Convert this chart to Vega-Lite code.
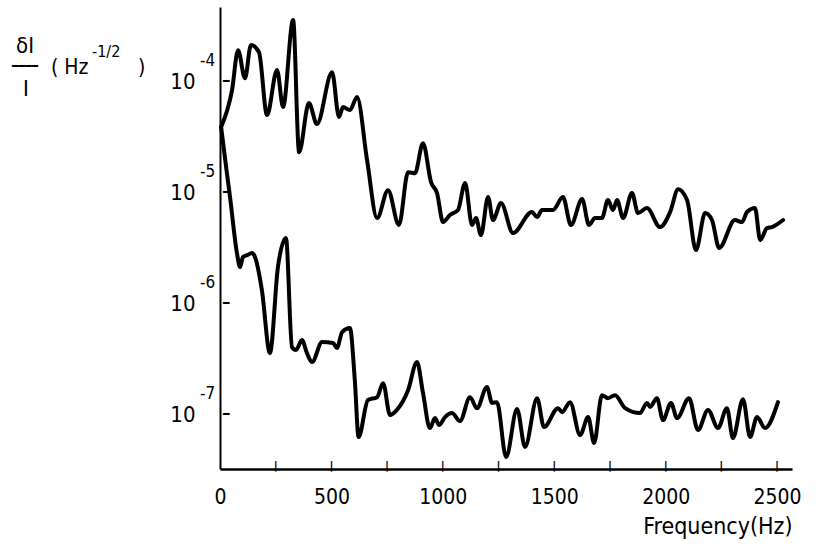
{
  "$schema": "https://vega.github.io/schema/vega-lite/v6.json",
  "width": 572,
  "height": 462,
  "autosize": {"type": "none"},
  "padding": {"left": 220, "top": 7, "right": 28, "bottom": 82},
  "background": "white",
  "config": {
    "view": {"stroke": null},
    "font": "DejaVu Sans Condensed, Liberation Sans Narrow, DejaVu Sans, sans-serif",
    "text": {"font": "DejaVu Sans Condensed, Liberation Sans Narrow, DejaVu Sans, sans-serif", "color": "black"}
  },
  "datasets": {
    "curves": [
      {"s": "upper", "f": 5, "v": 3.86e-5},
      {"s": "upper", "f": 54, "v": 8.30e-5},
      {"s": "upper", "f": 81, "v": 1.90e-4},
      {"s": "upper", "f": 112, "v": 1.06e-4},
      {"s": "upper", "f": 139, "v": 2.11e-4},
      {"s": "upper", "f": 175, "v": 1.82e-4},
      {"s": "upper", "f": 211, "v": 4.94e-5},
      {"s": "upper", "f": 256, "v": 1.26e-4},
      {"s": "upper", "f": 283, "v": 5.83e-5},
      {"s": "upper", "f": 328, "v": 3.55e-4},
      {"s": "upper", "f": 355, "v": 2.29e-5},
      {"s": "upper", "f": 399, "v": 6.34e-5},
      {"s": "upper", "f": 435, "v": 4.10e-5},
      {"s": "upper", "f": 503, "v": 1.20e-4},
      {"s": "upper", "f": 534, "v": 4.74e-5},
      {"s": "upper", "f": 552, "v": 5.83e-5},
      {"s": "upper", "f": 583, "v": 5.48e-5},
      {"s": "upper", "f": 615, "v": 7.18e-5},
      {"s": "upper", "f": 660, "v": 1.94e-5},
      {"s": "upper", "f": 705, "v": 5.83e-6},
      {"s": "upper", "f": 754, "v": 1.04e-5},
      {"s": "upper", "f": 803, "v": 5.05e-6},
      {"s": "upper", "f": 844, "v": 1.51e-5},
      {"s": "upper", "f": 875, "v": 1.48e-5},
      {"s": "upper", "f": 911, "v": 2.76e-5},
      {"s": "upper", "f": 947, "v": 1.23e-5},
      {"s": "upper", "f": 974, "v": 9.80e-6},
      {"s": "upper", "f": 1001, "v": 5.37e-6},
      {"s": "upper", "f": 1032, "v": 6.21e-6},
      {"s": "upper", "f": 1068, "v": 6.89e-6},
      {"s": "upper", "f": 1100, "v": 1.21e-5},
      {"s": "upper", "f": 1131, "v": 5.05e-6},
      {"s": "upper", "f": 1149, "v": 5.83e-6},
      {"s": "upper", "f": 1171, "v": 4.10e-6},
      {"s": "upper", "f": 1203, "v": 9.02e-6},
      {"s": "upper", "f": 1225, "v": 5.60e-6},
      {"s": "upper", "f": 1261, "v": 7.96e-6},
      {"s": "upper", "f": 1315, "v": 4.27e-6},
      {"s": "upper", "f": 1400, "v": 6.61e-6},
      {"s": "upper", "f": 1423, "v": 5.96e-6},
      {"s": "upper", "f": 1445, "v": 6.89e-6},
      {"s": "upper", "f": 1494, "v": 6.89e-6},
      {"s": "upper", "f": 1539, "v": 9.02e-6},
      {"s": "upper", "f": 1575, "v": 5.05e-6},
      {"s": "upper", "f": 1625, "v": 8.65e-6},
      {"s": "upper", "f": 1656, "v": 5.05e-6},
      {"s": "upper", "f": 1683, "v": 5.83e-6},
      {"s": "upper", "f": 1714, "v": 5.83e-6},
      {"s": "upper", "f": 1741, "v": 8.47e-6},
      {"s": "upper", "f": 1764, "v": 6.89e-6},
      {"s": "upper", "f": 1782, "v": 8.47e-6},
      {"s": "upper", "f": 1809, "v": 5.83e-6},
      {"s": "upper", "f": 1849, "v": 9.80e-6},
      {"s": "upper", "f": 1876, "v": 6.47e-6},
      {"s": "upper", "f": 1916, "v": 7.18e-6},
      {"s": "upper", "f": 1975, "v": 4.84e-6},
      {"s": "upper", "f": 2020, "v": 6.61e-6},
      {"s": "upper", "f": 2056, "v": 1.06e-5},
      {"s": "upper", "f": 2096, "v": 8.47e-6},
      {"s": "upper", "f": 2136, "v": 3.00e-6},
      {"s": "upper", "f": 2177, "v": 6.47e-6},
      {"s": "upper", "f": 2208, "v": 5.60e-6},
      {"s": "upper", "f": 2240, "v": 3.13e-6},
      {"s": "upper", "f": 2311, "v": 5.60e-6},
      {"s": "upper", "f": 2343, "v": 5.37e-6},
      {"s": "upper", "f": 2365, "v": 6.61e-6},
      {"s": "upper", "f": 2401, "v": 7.18e-6},
      {"s": "upper", "f": 2424, "v": 3.70e-6},
      {"s": "upper", "f": 2455, "v": 4.74e-6},
      {"s": "upper", "f": 2477, "v": 4.84e-6},
      {"s": "upper", "f": 2527, "v": 5.60e-6},
      {"s": "lower", "f": 5, "v": 3.86e-5},
      {"s": "lower", "f": 31, "v": 1.48e-5},
      {"s": "lower", "f": 45, "v": 9.02e-6},
      {"s": "lower", "f": 76, "v": 2.82e-6},
      {"s": "lower", "f": 90, "v": 2.11e-6},
      {"s": "lower", "f": 103, "v": 2.60e-6},
      {"s": "lower", "f": 121, "v": 2.70e-6},
      {"s": "lower", "f": 144, "v": 2.82e-6},
      {"s": "lower", "f": 157, "v": 2.60e-6},
      {"s": "lower", "f": 188, "v": 1.31e-6},
      {"s": "lower", "f": 224, "v": 3.55e-7},
      {"s": "lower", "f": 260, "v": 2.11e-6},
      {"s": "lower", "f": 296, "v": 3.85e-6},
      {"s": "lower", "f": 323, "v": 4.02e-7},
      {"s": "lower", "f": 341, "v": 3.78e-7},
      {"s": "lower", "f": 368, "v": 4.65e-7},
      {"s": "lower", "f": 390, "v": 3.55e-7},
      {"s": "lower", "f": 413, "v": 2.94e-7},
      {"s": "lower", "f": 458, "v": 4.46e-7},
      {"s": "lower", "f": 507, "v": 4.37e-7},
      {"s": "lower", "f": 525, "v": 3.94e-7},
      {"s": "lower", "f": 548, "v": 5.48e-7},
      {"s": "lower", "f": 583, "v": 5.96e-7},
      {"s": "lower", "f": 605, "v": 2.02e-7},
      {"s": "lower", "f": 622, "v": 6.21e-8},
      {"s": "lower", "f": 664, "v": 1.34e-7},
      {"s": "lower", "f": 705, "v": 1.42e-7},
      {"s": "lower", "f": 732, "v": 1.90e-7},
      {"s": "lower", "f": 763, "v": 9.80e-8},
      {"s": "lower", "f": 794, "v": 1.09e-7},
      {"s": "lower", "f": 844, "v": 1.64e-7},
      {"s": "lower", "f": 884, "v": 2.94e-7},
      {"s": "lower", "f": 911, "v": 1.55e-7},
      {"s": "lower", "f": 942, "v": 7.48e-8},
      {"s": "lower", "f": 965, "v": 9.20e-8},
      {"s": "lower", "f": 983, "v": 7.96e-8},
      {"s": "lower", "f": 1010, "v": 9.40e-8},
      {"s": "lower", "f": 1041, "v": 1.02e-7},
      {"s": "lower", "f": 1077, "v": 8.65e-8},
      {"s": "lower", "f": 1122, "v": 1.42e-7},
      {"s": "lower", "f": 1153, "v": 1.13e-7},
      {"s": "lower", "f": 1198, "v": 1.75e-7},
      {"s": "lower", "f": 1221, "v": 1.26e-7},
      {"s": "lower", "f": 1243, "v": 1.28e-7},
      {"s": "lower", "f": 1284, "v": 4.10e-8},
      {"s": "lower", "f": 1333, "v": 1.11e-7},
      {"s": "lower", "f": 1369, "v": 5.05e-8},
      {"s": "lower", "f": 1423, "v": 1.39e-7},
      {"s": "lower", "f": 1454, "v": 7.64e-8},
      {"s": "lower", "f": 1517, "v": 1.13e-7},
      {"s": "lower", "f": 1535, "v": 1.04e-7},
      {"s": "lower", "f": 1571, "v": 1.28e-7},
      {"s": "lower", "f": 1616, "v": 6.47e-8},
      {"s": "lower", "f": 1652, "v": 9.40e-8},
      {"s": "lower", "f": 1679, "v": 5.48e-8},
      {"s": "lower", "f": 1714, "v": 1.48e-7},
      {"s": "lower", "f": 1741, "v": 1.39e-7},
      {"s": "lower", "f": 1773, "v": 1.48e-7},
      {"s": "lower", "f": 1818, "v": 1.13e-7},
      {"s": "lower", "f": 1885, "v": 1.02e-7},
      {"s": "lower", "f": 1916, "v": 1.26e-7},
      {"s": "lower", "f": 1930, "v": 1.16e-7},
      {"s": "lower", "f": 1961, "v": 1.39e-7},
      {"s": "lower", "f": 1988, "v": 8.83e-8},
      {"s": "lower", "f": 2024, "v": 1.26e-7},
      {"s": "lower", "f": 2051, "v": 9.20e-8},
      {"s": "lower", "f": 2105, "v": 1.39e-7},
      {"s": "lower", "f": 2145, "v": 7.18e-8},
      {"s": "lower", "f": 2190, "v": 1.09e-7},
      {"s": "lower", "f": 2235, "v": 7.48e-8},
      {"s": "lower", "f": 2275, "v": 1.13e-7},
      {"s": "lower", "f": 2302, "v": 6.08e-8},
      {"s": "lower", "f": 2347, "v": 1.36e-7},
      {"s": "lower", "f": 2379, "v": 6.21e-8},
      {"s": "lower", "f": 2410, "v": 9.40e-8},
      {"s": "lower", "f": 2446, "v": 7.48e-8},
      {"s": "lower", "f": 2504, "v": 1.28e-7}
    ],
    "exps": [
      {"e": "-4", "v": 1e-4},
      {"e": "-5", "v": 1e-5},
      {"e": "-6", "v": 1e-6},
      {"e": "-7", "v": 1e-7}
    ],
    "xticks": [
      {"f": 250}, {"f": 500}, {"f": 750}, {"f": 1000}, {"f": 1250},
      {"f": 1500}, {"f": 1750}, {"f": 2000}, {"f": 2250}, {"f": 2500}
    ]
  },
  "layer": [
    {
      "data": {"name": "curves"},
      "mark": {"type": "line", "interpolate": "monotone", "color": "black", "strokeWidth": 4, "strokeJoin": "round", "strokeCap": "round"},
      "encoding": {
        "x": {
          "field": "f", "type": "quantitative",
          "scale": {"domain": [0, 2567], "nice": false, "zero": false},
          "axis": {
            "title": "Frequency(Hz)",
            "values": [0, 500, 1000, 1500, 2000, 2500],
            "format": "d",
            "grid": false,
            "ticks": false,
            "domainColor": "black", "domainWidth": 2.5,
            "labelFont": "DejaVu Sans Condensed, Liberation Sans Narrow, DejaVu Sans, sans-serif",
            "labelFontSize": 21, "labelColor": "black", "labelPadding": 17,
            "labelFlush": false, "labelOverlap": false,
            "titleFont": "DejaVu Sans Condensed, Liberation Sans Narrow, DejaVu Sans, sans-serif",
            "titleFontSize": 23, "titleFontWeight": "normal", "titleColor": "black",
            "titleAnchor": "end", "titlePadding": 8
          }
        },
        "y": {
          "field": "v", "type": "quantitative",
          "scale": {"type": "log", "domain": [3.2e-8, 4.65e-4], "nice": false},
          "axis": {
            "title": null,
            "values": [1e-7, 1e-6, 1e-5, 1e-4],
            "labelExpr": "'10'",
            "grid": false,
            "ticks": false,
            "domainColor": "black", "domainWidth": 2,
            "labelFont": "DejaVu Sans Condensed, Liberation Sans Narrow, DejaVu Sans, sans-serif",
            "labelFontSize": 22, "labelColor": "black", "labelPadding": 25
          }
        },
        "detail": {"field": "s"}
      }
    },
    {
      "data": {"name": "xticks"},
      "mark": {"type": "text", "align": "center", "baseline": "alphabetic", "font": "DejaVu Sans", "fontWeight": "bold", "fontSize": 11, "color": "black"},
      "encoding": {
        "x": {"field": "f", "type": "quantitative"},
        "y": {"datum": 3.2e-8, "type": "quantitative"},
        "text": {"value": "|"}
      }
    },
    {
      "data": {"name": "exps"},
      "mark": {"type": "text", "align": "left", "baseline": "middle", "fontSize": 12, "dx": 3, "color": "black"},
      "encoding": {
        "x": {"datum": 0, "type": "quantitative"},
        "y": {"field": "v", "type": "quantitative"},
        "text": {"value": "━"}
      }
    },
    {
      "data": {"name": "exps"},
      "mark": {"type": "text", "align": "left", "baseline": "middle", "fontSize": 17, "dx": -20, "dy": -20},
      "encoding": {
        "x": {"datum": 0, "type": "quantitative"},
        "y": {"field": "v", "type": "quantitative"},
        "text": {"field": "e"}
      }
    },
    {
      "data": {"values": [{"t": "δI"}]},
      "mark": {"type": "text", "align": "center", "baseline": "middle", "fontSize": 22, "dx": -195, "dy": -35},
      "encoding": {"x": {"datum": 0, "type": "quantitative"}, "y": {"datum": 1e-4, "type": "quantitative"}, "text": {"field": "t"}}
    },
    {
      "data": {"values": [{"t": "━━━━"}]},
      "mark": {"type": "text", "align": "center", "baseline": "middle", "fontSize": 12, "dx": -195, "dy": -15},
      "encoding": {"x": {"datum": 0, "type": "quantitative"}, "y": {"datum": 1e-4, "type": "quantitative"}, "text": {"field": "t"}}
    },
    {
      "data": {"values": [{"t": "I"}]},
      "mark": {"type": "text", "align": "center", "baseline": "middle", "fontSize": 22, "dx": -194, "dy": 8},
      "encoding": {"x": {"datum": 0, "type": "quantitative"}, "y": {"datum": 1e-4, "type": "quantitative"}, "text": {"field": "t"}}
    },
    {
      "data": {"values": [{"t": "( Hz"}]},
      "mark": {"type": "text", "align": "left", "baseline": "middle", "fontSize": 21, "dx": -169, "dy": -13},
      "encoding": {"x": {"datum": 0, "type": "quantitative"}, "y": {"datum": 1e-4, "type": "quantitative"}, "text": {"field": "t"}}
    },
    {
      "data": {"values": [{"t": "-1/2"}]},
      "mark": {"type": "text", "align": "left", "baseline": "middle", "fontSize": 16, "dx": -128, "dy": -29},
      "encoding": {"x": {"datum": 0, "type": "quantitative"}, "y": {"datum": 1e-4, "type": "quantitative"}, "text": {"field": "t"}}
    },
    {
      "data": {"values": [{"t": ")"}]},
      "mark": {"type": "text", "align": "left", "baseline": "middle", "fontSize": 21, "dx": -82, "dy": -13},
      "encoding": {"x": {"datum": 0, "type": "quantitative"}, "y": {"datum": 1e-4, "type": "quantitative"}, "text": {"field": "t"}}
    }
  ]
}
